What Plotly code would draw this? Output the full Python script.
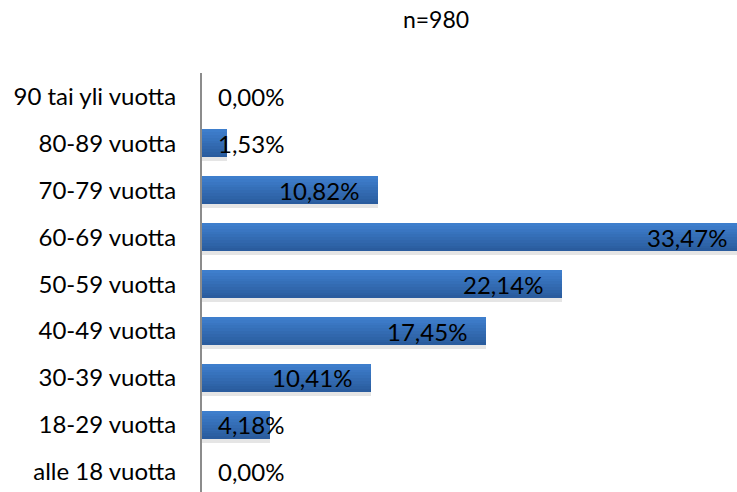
import plotly.graph_objects as go

categories = ["alle 18 vuotta", "18-29 vuotta", "30-39 vuotta", "40-49 vuotta",
              "50-59 vuotta", "60-69 vuotta", "70-79 vuotta", "80-89 vuotta",
              "90 tai yli vuotta"]
values = [0.00, 4.18, 10.41, 17.45, 22.14, 33.47, 10.82, 1.53, 0.00]
title_text = "n=980"

FONT = "Lato"
BAR_W = 0.6
N_STRIPES = 10
top_rgb = (62, 126, 204)
bot_rgb = (42, 92, 158)

MARGIN_L = 202
FIG_W = 737
X_MAX = 32.9
px_per_unit = (FIG_W - MARGIN_L) / X_MAX

fig = go.Figure()

# soft drop shadow under each bar
fig.add_trace(go.Bar(
    y=list(range(len(categories))), x=values, orientation="h",
    width=BAR_W, offset=-BAR_W / 2 - 0.08,
    marker=dict(color="rgba(0,0,0,0.10)", line=dict(width=0)),
    hoverinfo="skip", showlegend=False,
))

# vertical gradient built from thin stacked stripes
for k in range(N_STRIPES):
    t = k / (N_STRIPES - 1)
    r = round(bot_rgb[0] + (top_rgb[0] - bot_rgb[0]) * t)
    g = round(bot_rgb[1] + (top_rgb[1] - bot_rgb[1]) * t)
    b = round(bot_rgb[2] + (top_rgb[2] - bot_rgb[2]) * t)
    fig.add_trace(go.Bar(
        y=list(range(len(categories))), x=values, orientation="h",
        width=BAR_W / N_STRIPES + 0.004,
        offset=-BAR_W / 2 + k * BAR_W / N_STRIPES,
        marker=dict(color=f"rgb({r},{g},{b})", line=dict(width=0)),
        hoverinfo="skip", showlegend=False,
    ))

# value labels: inside end when the bar is long enough, else next to the axis
for i, v in enumerate(values):
    label = f"{v:.2f}".replace(".", ",") + "%"
    if v >= 6:
        # bars running past the plot edge keep their label at the true bar end
        xa = min(v, X_MAX)
        shift = -17 + (v - xa) * px_per_unit
        fig.add_annotation(x=xa, y=i, text=label, showarrow=False,
                           xanchor="right", xshift=shift,
                           font=dict(family=FONT, size=24, color="black"))
    else:
        fig.add_annotation(x=0, y=i, text=label, showarrow=False,
                           xanchor="left", xshift=14,
                           font=dict(family=FONT, size=24, color="black"))

fig.update_layout(
    width=FIG_W, height=492,
    margin=dict(l=MARGIN_L, r=0, t=73, b=0),
    plot_bgcolor="white", paper_bgcolor="white",
    barmode="overlay", bargap=0,
    title=dict(text=title_text, x=436 / 737, xanchor="center",
               y=1 - 20 / 492, yanchor="middle",
               font=dict(family=FONT, size=23, color="black")),
    xaxis=dict(range=[0, X_MAX], visible=False, fixedrange=True),
    yaxis=dict(
        range=[-0.43, 8.5],
        tickmode="array", tickvals=list(range(len(categories))),
        ticktext=categories, ticks="", ticklen=0,
        showgrid=False, zeroline=False,
        showline=True, linecolor="#8c8c8c", linewidth=2,
        tickfont=dict(family=FONT, size=24, color="black"),
        ticklabelstandoff=19,
    ),
)

fig.write_html("out.html")
